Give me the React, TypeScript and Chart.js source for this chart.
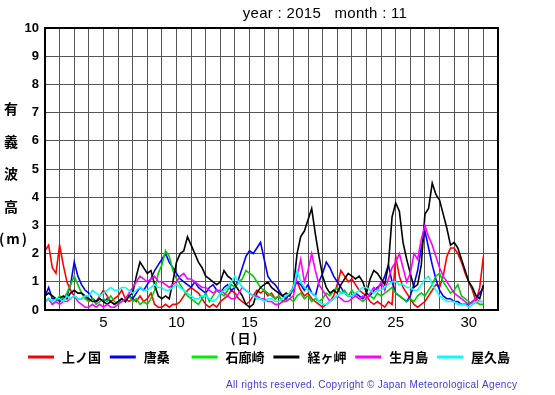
import React, { useEffect, useRef } from "react";
import { Chart, registerables } from "chart.js";
Chart.register(...registerables);

const TITLE = "year : 2015   month : 11";
const Y_TITLE = ["有", "義", "波", "高", "(m)"];
const X_TITLE = "(日)";
const COPYRIGHT = "All rights reserved. Copyright © Japan Meteorological Agency";
const STATIONS = ["上ノ国", "唐桑", "石廊崎", "経ヶ岬", "生月島", "屋久島"];
const COLORS = ["#ff0000", "#0000ff", "#00cc00", "#000000", "#ff00ff", "#00ffff"];
const X_TICKS = [5, 10, 15, 20, 25, 30];
const START_DAY = 1;
const STEPS_PER_DAY = 4;

// 6-hourly significant wave height (m), Nov 1 .. Dec 1
const KAMINOKUNI = [
  2.1, 2.3, 1.5, 1.3, 2.3, 1.6, 1.0, 0.7, 0.5, 0.4, 0.4, 0.5, 0.3, 0.4, 0.3, 0.5,
  0.7, 0.5, 0.3, 0.4, 0.5, 0.7, 0.4, 0.3, 0.4, 0.3, 0.5, 0.3, 0.4, 0.6, 0.2, 0.1,
  0.1, 0.2, 0.1, 0.2, 0.2, 0.3, 0.5, 0.7, 0.8, 0.7, 0.6, 0.4, 0.2, 0.1, 0.2, 0.1,
  0.3, 0.4, 0.5, 0.7, 0.6, 0.4, 0.3, 0.2, 0.3, 0.5, 0.7, 0.6, 0.7, 0.5, 0.6, 0.4,
  0.5, 0.3, 0.4, 0.6, 0.8, 1.0, 0.7, 0.5, 0.6, 0.4, 0.3, 0.2, 0.1, 0.2, 0.3, 0.5,
  0.9, 1.4, 1.2, 1.0, 1.1, 0.9, 0.7, 0.6, 0.5, 0.3, 0.2, 0.3, 0.2, 0.1, 0.3, 0.2,
  1.9, 1.2, 0.8, 0.6, 0.4, 0.2, 0.1, 0.2, 0.3, 0.5, 0.7, 0.9, 0.8, 1.2, 1.9, 2.2,
  2.2, 2.0, 1.7, 1.3, 1.0, 0.7, 0.3, 0.8, 1.9,
];
const KARAKUWA = [
  0.5, 0.8, 0.4, 0.4, 0.3, 0.4, 0.5, 0.9, 1.7, 1.2, 0.9, 0.7, 0.6, 0.4, 0.3, 0.4,
  0.3, 0.4, 0.3, 0.2, 0.3, 0.4, 0.3, 0.5, 0.4, 0.6, 0.8, 0.7, 0.9, 1.1, 1.4, 1.6,
  1.8, 2.0, 1.7, 1.5, 1.3, 1.1, 1.0, 0.9, 0.8, 1.0, 0.8, 0.7, 0.6, 0.8, 0.9, 0.7,
  0.6, 0.8, 0.9, 0.7, 0.8, 1.1, 1.5, 1.9, 2.1, 2.0, 2.2, 2.4, 1.8, 1.2, 1.0, 0.9,
  0.7, 0.5, 0.4, 0.6, 0.8, 1.0, 0.9, 0.7, 0.9, 0.6, 0.5, 1.0, 1.3, 1.7, 1.5, 1.2,
  1.0, 0.8, 0.6, 0.5, 0.5, 0.6, 0.5, 0.4, 0.6, 0.5, 0.7, 0.8, 0.9, 1.2, 1.6, 1.0,
  0.6, 0.5, 0.4, 0.3, 0.5, 0.9, 1.4, 2.2, 2.8, 2.2, 1.6, 1.1, 0.7, 0.5, 0.4, 0.4,
  0.3, 0.3, 0.2, 0.2, 0.2, 0.3, 0.4, 0.6, 0.8,
];
const IROZAKI = [
  0.3, 0.4, 0.2, 0.3, 0.5, 0.4, 0.6, 0.9, 1.2, 0.9, 0.6, 0.4, 0.3, 0.4, 0.2, 0.3,
  0.4, 0.3, 0.5, 0.3, 0.2, 0.4, 0.3, 0.5, 0.3, 0.4, 0.2, 0.3, 0.2, 0.4, 0.7, 1.3,
  1.6, 2.1, 1.9, 1.4, 1.1, 0.9, 0.7, 0.5, 0.4, 0.3, 0.2, 0.4, 0.6, 0.3, 0.5, 0.7,
  0.6, 0.5, 0.7, 0.9, 0.8, 1.0, 1.1, 1.4, 1.3, 1.2, 1.0, 0.8, 0.7, 0.6, 0.5, 0.4,
  0.5, 0.3, 0.3, 0.4, 0.3, 0.5, 0.6, 0.4, 0.5, 0.3, 0.4, 0.3, 0.4, 0.6, 0.5, 0.7,
  0.8, 0.6, 0.7, 0.5, 0.7, 0.5, 0.4, 0.3, 0.4, 0.5, 0.4, 0.6, 0.5, 0.6, 0.7, 0.8,
  0.6, 0.5, 0.4, 0.3, 0.4, 0.3, 0.5, 0.6, 0.5, 0.7, 0.9, 1.2, 1.3, 1.0, 0.8, 0.6,
  0.7, 0.9, 0.5, 0.4, 0.3, 0.2, 0.3, 0.2, 0.2,
];
const KYOGAMISAKI = [
  0.5, 0.6, 0.5, 0.4, 0.4, 0.5, 0.4, 0.6, 0.7, 0.6, 0.6, 0.5, 0.4, 0.3, 0.3, 0.4,
  0.3, 0.2, 0.3, 0.2, 0.3, 0.4, 0.3, 0.5, 0.6, 1.2, 1.7, 1.5, 1.3, 1.4, 0.9, 0.5,
  0.4, 0.5, 0.4, 1.0, 1.7, 2.0, 2.1, 2.6, 2.3, 2.0, 1.7, 1.5, 1.2, 1.1, 1.0, 0.9,
  1.0, 1.4, 1.2, 1.1, 0.9, 0.7, 0.5, 0.2, 0.1, 0.2, 0.6, 0.8, 0.9, 1.0, 0.8, 0.7,
  0.6, 0.5, 0.6, 0.5, 0.8, 2.0, 2.6, 2.8, 3.2, 3.6, 2.7, 1.9, 1.2, 0.8, 0.6, 0.7,
  0.6, 0.9, 1.1, 1.3, 1.2, 1.1, 1.2, 1.0, 0.6, 1.1, 1.4, 1.3, 1.1, 0.9, 1.6, 3.3,
  3.8, 3.5, 2.4, 1.8, 1.3, 0.8, 0.9, 1.6, 3.4, 3.6, 4.5, 4.1, 3.9, 3.4, 2.9, 2.3,
  2.4, 2.2, 1.8, 1.4, 1.0, 0.8, 0.5, 0.4, 0.9,
];
const IKITSUKISHIMA = [
  0.3, 0.4, 0.2, 0.3, 0.2, 0.3, 0.3, 0.4, 0.5, 0.3, 0.2, 0.1, 0.1, 0.2, 0.1, 0.2,
  0.1, 0.2, 0.1, 0.1, 0.2, 0.3, 0.4, 0.6, 0.8, 1.0, 1.2, 1.1, 1.0, 1.1, 1.2, 1.0,
  1.0, 0.9, 0.8, 0.9, 1.0, 1.2, 1.3, 1.1, 1.1, 1.0, 0.9, 0.8, 0.8, 0.7, 0.6, 0.7,
  0.7, 0.6, 0.5, 0.4, 0.4, 0.6, 0.8, 0.7, 0.6, 0.5, 0.5, 0.4, 0.4, 0.3, 0.3, 0.2,
  0.2, 0.3, 0.3, 0.4, 0.5, 1.2, 1.8, 1.0, 1.4, 2.0, 1.4, 0.9, 0.7, 0.5, 0.3, 0.4,
  0.5, 0.4, 0.3, 0.3, 0.4, 0.5, 0.4, 0.5, 0.4, 0.6, 0.8, 0.7, 1.0, 0.7, 1.1, 1.5,
  1.7, 2.0, 1.5, 1.0, 1.3, 2.0, 1.8, 2.5, 3.0, 2.6, 2.3, 1.9, 1.5, 1.2, 1.0, 0.8,
  0.6, 0.5, 0.4, 0.3, 0.2, 0.3, 0.4, 0.3, 0.3,
];
const YAKUSHIMA = [
  0.3, 0.4, 0.3, 0.4, 0.4, 0.3, 0.5, 0.4, 0.5, 0.4, 0.4, 0.5, 0.5, 0.7, 0.6, 0.5,
  0.6, 0.7, 0.8, 0.7, 0.7, 0.8, 0.8, 0.7, 0.6, 0.7, 0.8, 0.7, 0.7, 0.8, 0.9, 0.8,
  0.8, 0.7, 0.7, 0.8, 0.9, 0.8, 0.7, 0.6, 0.5, 0.4, 0.4, 0.5, 0.5, 0.4, 0.3, 0.4,
  0.6, 0.7, 0.8, 1.0, 1.2, 1.0, 0.8, 0.7, 0.6, 0.5, 0.4, 0.4, 0.3, 0.4, 0.4, 0.3,
  0.3, 0.4, 0.5, 0.6, 0.8, 1.4, 1.0, 0.8, 0.7, 0.6, 0.5, 0.3, 0.2, 0.2, 0.3, 0.4,
  0.5, 0.6, 0.6, 0.5, 0.5, 0.6, 0.7, 0.8, 0.8, 0.7, 0.6, 0.7, 0.7, 0.8, 0.9, 1.0,
  1.0, 0.9, 0.9, 0.8, 0.8, 0.7, 0.7, 0.9, 1.1, 1.2, 0.9, 0.7, 0.5, 0.4, 0.3, 0.3,
  0.3, 0.2, 0.2, 0.2, 0.1, 0.2, 0.3, 0.3, 0.3,
];
const SERIES = [KAMINOKUNI, KARAKUWA, IROZAKI, KYOGAMISAKI, IKITSUKISHIMA, YAKUSHIMA];

const SANS = "'Liberation Sans', Arial, sans-serif";
const CJK = "'Noto Sans CJK JP', sans-serif";

const decor = {
  id: "decor",
  afterDraw(chart: any) {
    const ctx = chart.ctx as CanvasRenderingContext2D;
    const a = chart.chartArea;
    ctx.save();
    ctx.strokeStyle = "#000";
    ctx.lineWidth = 2;
    ctx.strokeRect(a.left, a.top, a.right - a.left, a.bottom - a.top);

    ctx.fillStyle = "#000";
    ctx.textAlign = "center";
    ctx.textBaseline = "middle";
    ctx.font = `15px ${SANS}`;
    (ctx as any).letterSpacing = "0.3px";
    ctx.fillText(TITLE, 325, 14);
    (ctx as any).letterSpacing = "0px";

    ctx.font = `bold 14px ${CJK}`;
    Y_TITLE.forEach((c, i) => {
      (ctx as any).letterSpacing = c.length > 1 ? "2px" : "0px";
      ctx.fillText(c, c.length > 1 ? 14 : 11, 109 + i * 32.5);
    });
    ctx.font = `bold 13px ${CJK}`;
    (ctx as any).letterSpacing = "2px";
    ctx.fillText(X_TITLE, 245, 338);
    (ctx as any).letterSpacing = "0px";

    // legend
    ctx.textAlign = "left";
    STATIONS.forEach((name, i) => {
      const x0 = 28 + i * 81.8;
      ctx.strokeStyle = COLORS[i] === "#00cc00" ? "#00ee00" : COLORS[i];
      ctx.lineWidth = 3;
      ctx.beginPath();
      ctx.moveTo(x0, 357);
      ctx.lineTo(x0 + 26, 357);
      ctx.stroke();
      ctx.fillStyle = "#000";
      ctx.font = `bold 13px ${CJK}`;
      ctx.fillText(name, x0 + 34, 357);
    });

    // copyright
    ctx.font = `10px ${SANS}`;
    ctx.fillStyle = "#3c3cdc";
    const w = ctx.measureText(COPYRIGHT).width;
    const ls = (291 - w) / (COPYRIGHT.length - 1);
    (ctx as any).letterSpacing = `${ls}px`;
    ctx.fillText(COPYRIGHT, 226, 385);
    (ctx as any).letterSpacing = "0px";
    ctx.restore();
  },
};

export default function App() {
  const ref = useRef<HTMLCanvasElement>(null);
  useEffect(() => {
    if (!ref.current) return;
    const datasets = SERIES.map((vals, i) => ({
      label: STATIONS[i],
      data: vals.map((v, k) => ({ x: START_DAY + k / STEPS_PER_DAY, y: v })),
      borderColor: COLORS[i],
      backgroundColor: COLORS[i],
      borderWidth: 1.6,
      pointRadius: 0,
      tension: 0,
      order: SERIES.length - i,
    }));
    const chart = new Chart(ref.current, {
      type: "line",
      data: { datasets },
      options: {
        animation: false,
        responsive: false,
        maintainAspectRatio: false,
        layout: { padding: { left: 0, right: 57, top: 28, bottom: 60 } },
        plugins: { legend: { display: false }, title: { display: false }, tooltip: { enabled: false } },
        scales: {
          x: {
            type: "linear",
            min: 1,
            max: 32,
            afterFit: (s: any) => { s.height = 25; },
            ticks: {
              stepSize: 1,
              autoSkip: false,
              maxRotation: 0,
              padding: 4,
              color: "#000",
              font: { family: SANS, size: 15 },
              callback: (v: any) => (X_TICKS.includes(Number(v)) ? String(v) : ""),
            },
            grid: { color: "#555", lineWidth: 1, drawTicks: false },
            border: { display: true, color: "#000", width: 2 },
          },
          y: {
            min: 0,
            max: 10,
            afterFit: (s: any) => { s.width = 45; },
            ticks: {
              stepSize: 1,
              padding: 6,
              color: "#000",
              font: { family: SANS, size: 13, weight: "bold" },
            },
            grid: { color: "#555", lineWidth: 1, drawTicks: false },
            border: { display: true, color: "#000", width: 2 },
          },
        },
      },
      plugins: [decor],
    } as any);
    return () => chart.destroy();
  }, []);
  return (
    <div style={{ position: "absolute", left: 0, top: 0, width: 555, height: 395, background: "#fff" }}>
      <canvas ref={ref} width={555} height={395} style={{ width: 555, height: 395 }} />
    </div>
  );
}
